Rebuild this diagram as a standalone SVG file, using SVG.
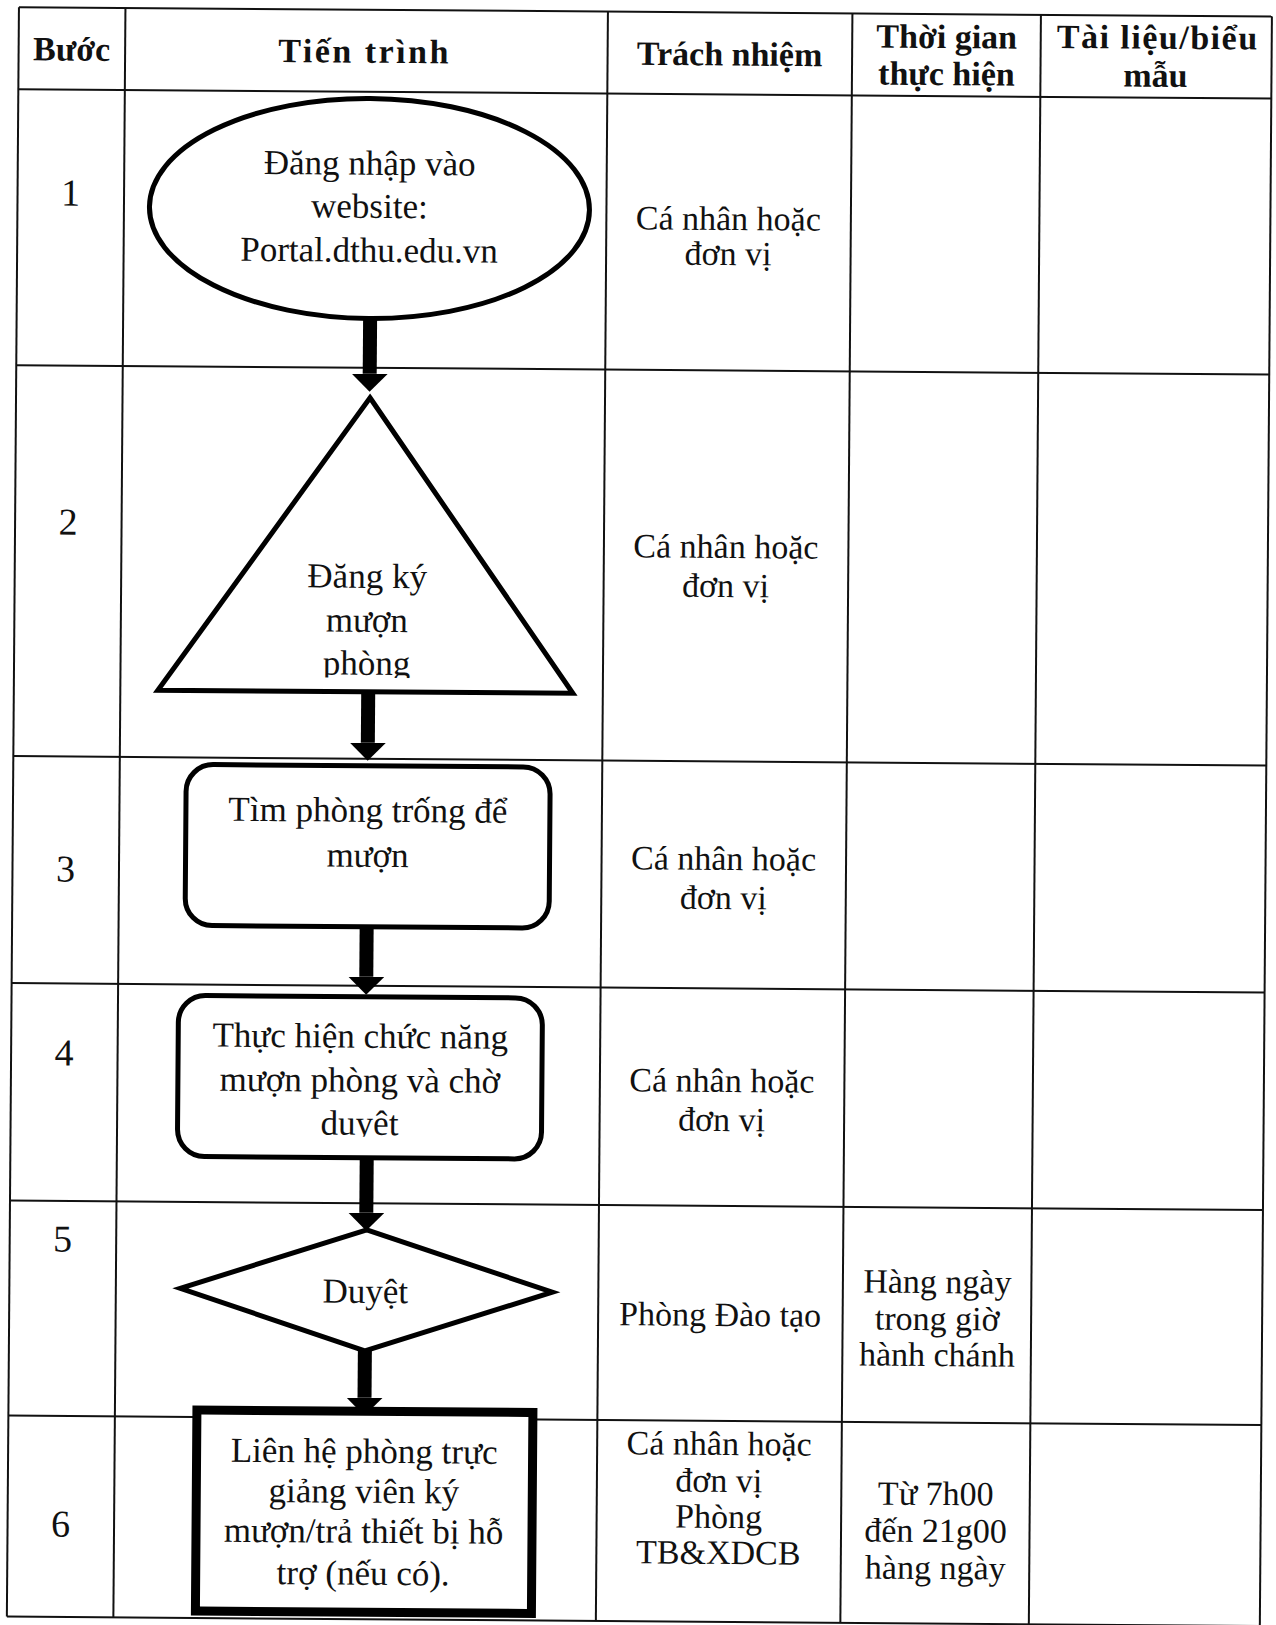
<svg xmlns="http://www.w3.org/2000/svg" width="1276" height="1625" viewBox="0 0 1276 1625">
<style>
.grid line{stroke:#111;stroke-width:2}
.hd{font-family:"Liberation Serif","Times New Roman",serif;font-weight:bold;font-size:34px;fill:#111;text-anchor:middle}
.tx{font-family:"Liberation Serif","Times New Roman",serif;font-size:35px;fill:#111;text-anchor:middle}
.num{font-family:"Liberation Serif","Times New Roman",serif;font-size:38px;fill:#111;text-anchor:middle}
.cell{font-family:"Liberation Serif","Times New Roman",serif;font-size:34px;fill:#111;text-anchor:middle}
.shape{fill:#fff;stroke:#000;stroke-width:5}
.conn line{stroke:#000;stroke-width:14}
</style>
<defs>
<marker id="ah" markerUnits="userSpaceOnUse" viewBox="0 -18 18 36" refX="0" refY="0" markerWidth="18" markerHeight="36" orient="auto"><path d="M0,-18 L18,0 L0,18 Z" fill="#000"/></marker>
<clipPath id="clipTri"><rect x="150" y="380" width="440" height="295"/></clipPath>
<clipPath id="clipR4"><rect x="180" y="990" width="380" height="144"/></clipPath>
</defs>
<rect width="1276" height="1625" fill="#fff"/>
<g transform="rotate(0.43)">
<g id="table" class="grid">
<line x1="19" y1="7" x2="1272" y2="7"/>
<line x1="19" y1="89" x2="1272" y2="89"/>
<line x1="19" y1="365" x2="1272" y2="365"/>
<line x1="19" y1="756" x2="1272" y2="756"/>
<line x1="19" y1="983" x2="1272" y2="983"/>
<line x1="19" y1="1200.5" x2="1272" y2="1200.5"/>
<line x1="19" y1="1415.5" x2="1272" y2="1415.5"/>
<line x1="19" y1="1616.5" x2="1272" y2="1616.5"/>
<line x1="19" y1="7" x2="19" y2="1616.5"/>
<line x1="125.5" y1="7" x2="125.5" y2="1616.5"/>
<line x1="608" y1="7" x2="608" y2="1616.5"/>
<line x1="852.5" y1="7" x2="852.5" y2="1616.5"/>
<line x1="1041" y1="7" x2="1041" y2="1616.5"/>
<line x1="1272" y1="7" x2="1272" y2="1616.5"/>
</g>
<g id="header">
<text class="hd" x="72" y="60">Bước</text>
<text class="hd" x="365" y="60" letter-spacing="2.5">Tiến trình</text>
<text class="hd" x="730" y="60">Trách nhiệm</text>
<text class="hd" x="947" y="41">Thời gian</text>
<text class="hd" x="947" y="78">thực hiện</text>
<text class="hd" x="1158" y="40" letter-spacing="1.5">Tài liệu/biểu</text>
<text class="hd" x="1156" y="78">mẫu</text>
</g>
<g id="steps">
<text class="num" x="72" y="205">1</text>
<text class="num" x="72" y="534">2</text>
<text class="num" x="72" y="881">3</text>
<text class="num" x="72" y="1065">4</text>
<text class="num" x="72" y="1251">5</text>
<text class="num" x="72" y="1536">6</text>
</g>
<g id="connectors" class="conn">
<line x1="372.5" y1="316" x2="372.5" y2="371" marker-end="url(#ah)"/>
<line x1="373.4" y1="689" x2="373.4" y2="740" marker-end="url(#ah)"/>
<line x1="373.6" y1="924" x2="373.6" y2="974" marker-end="url(#ah)"/>
<line x1="375.4" y1="1155" x2="375.4" y2="1210" marker-end="url(#ah)"/>
<line x1="375" y1="1348" x2="375" y2="1395" marker-end="url(#ah)"/>
</g>
<g id="n1">
<ellipse class="shape" cx="371" cy="205.7" rx="220" ry="110"/>
<text class="tx" x="371" y="172">Đăng nhập vào</text>
<text class="tx" x="371" y="215">website:</text>
<text class="tx" x="371" y="259">Portal.dthu.edu.vn</text>
</g>
<g id="n2">
<polygon class="shape" points="373,395 578,689 163,689"/>
<g clip-path="url(#clipTri)">
<text class="tx" x="371.5" y="585">Đăng ký</text>
<text class="tx" x="371.5" y="629">mượn</text>
<text class="tx" x="371.5" y="672">phòng</text>
</g>
</g>
<g id="n3">
<rect class="shape" x="192" y="763" width="364" height="161" rx="27"/>
<text class="tx" x="374" y="819">Tìm phòng trống để</text>
<text class="tx" x="374" y="864">mượn</text>
</g>
<g id="n4">
<rect class="shape" x="186" y="994" width="364" height="161" rx="27"/>
<g clip-path="url(#clipR4)">
<text class="tx" x="368" y="1045">Thực hiện chức năng</text>
<text class="tx" x="368" y="1089">mượn phòng và chờ</text>
<text class="tx" x="368" y="1132">duyệt</text>
</g>
</g>
<g id="n5">
<polygon class="shape" points="376,1227 562,1288 375,1348 190,1287"/>
<text class="tx" x="375" y="1300">Duyệt</text>
</g>
<g id="n6">
<rect x="207.5" y="1408.5" width="336" height="201" fill="#fff" stroke="#000" stroke-width="9"/>
<text class="tx" x="375" y="1460">Liên hệ phòng trực</text>
<text class="tx" x="375" y="1500">giảng viên ký</text>
<text class="tx" x="375" y="1540">mượn/trả thiết bị hỗ</text>
<text class="tx" x="375" y="1582">trợ (nếu có).</text>
</g>
<g id="cells">
<text class="cell" x="730" y="224.5">Cá nhân hoặc</text>
<text class="cell" x="730" y="259.5">đơn vị</text>
<text class="cell" x="730" y="552.5">Cá nhân hoặc</text>
<text class="cell" x="730" y="591.5">đơn vị</text>
<text class="cell" x="730" y="864.5">Cá nhân hoặc</text>
<text class="cell" x="730" y="903.5">đơn vị</text>
<text class="cell" x="730" y="1086.5">Cá nhân hoặc</text>
<text class="cell" x="730" y="1125.5">đơn vị</text>
<text class="cell" x="730" y="1320.5">Phòng Đào tạo</text>
<text class="cell" x="947" y="1286">Hàng ngày</text>
<text class="cell" x="947" y="1323">trong giờ</text>
<text class="cell" x="947" y="1359">hành chánh</text>
<text class="cell" x="730" y="1449.5">Cá nhân hoặc</text>
<text class="cell" x="730" y="1486.5">đơn vị</text>
<text class="cell" x="730" y="1522.5">Phòng</text>
<text class="cell" x="730" y="1558.5">TB&amp;XDCB</text>
<text class="cell" x="947" y="1498">Từ 7h00</text>
<text class="cell" x="947" y="1535">đến 21g00</text>
<text class="cell" x="947" y="1572">hàng ngày</text>
</g>
</g>
</svg>
